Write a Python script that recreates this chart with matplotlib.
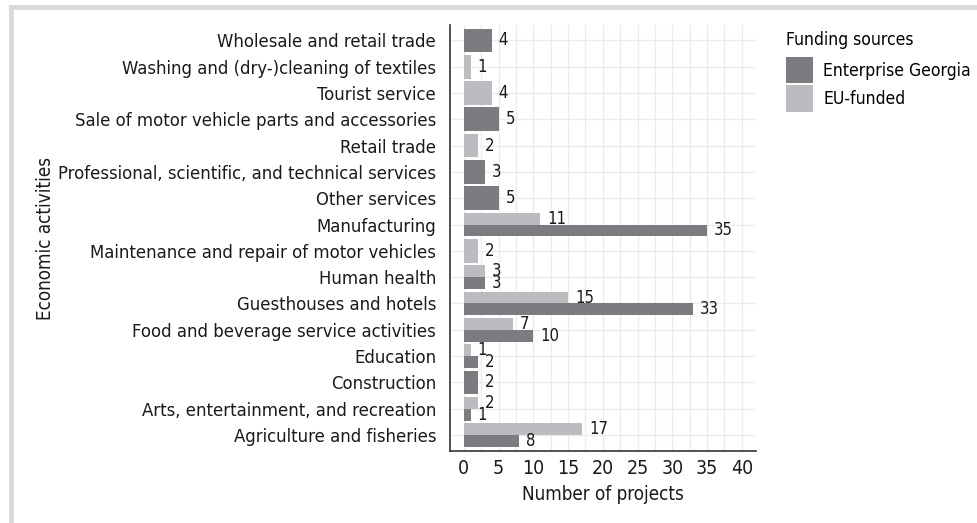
#!/usr/bin/env python3
"""Projects by economic activity and funding source, horizontal grouped bars."""

import matplotlib

matplotlib.use("Agg")
import matplotlib.pyplot as plt
import numpy as np
from matplotlib.lines import Line2D
from matplotlib.patches import Patch

# top to bottom, as in the source chart
activities = [
    "Wholesale and retail trade",
    "Washing and (dry-)cleaning of textiles",
    "Tourist service",
    "Sale of motor vehicle parts and accessories",
    "Retail trade",
    "Professional, scientific, and technical services",
    "Other services",
    "Manufacturing",
    "Maintenance and repair of motor vehicles",
    "Human health",
    "Guesthouses and hotels",
    "Food and beverage service activities",
    "Education",
    "Construction",
    "Arts, entertainment, and recreation",
    "Agriculture and fisheries",
]
enterprise_georgia = [4, np.nan, np.nan, 5, np.nan, 3, 5, 35, np.nan, 3, 33, 10, 2, 2, 1, 8]
eu_funded = [np.nan, 1, 4, np.nan, 2, np.nan, np.nan, 11, 2, 3, 15, 7, 1, np.nan, 2, 17]
x_ticks = [0, 5, 10, 15, 20, 25, 30, 35, 40]

DARK = "#7c7c80"
LIGHT = "#bcbcc0"
GRID = "#ebebeb"
TEXT = "#1a1a1a"

plt.rcParams["font.family"] = ["DejaVu Sans"]
plt.rcParams["font.stretch"] = "condensed"


def draw_bars(ax):
    n = len(activities)
    ys = n - 1 - np.arange(n)
    width = 0.9
    for y, eg, eu in zip(ys, enterprise_georgia, eu_funded):
        both = not np.isnan(eg) and not np.isnan(eu)
        h = width / 2 if both else width
        # EU-funded sits on top, Enterprise Georgia below (ggplot dodge)
        if not np.isnan(eu):
            yc = y + width / 4 if both else y
            ax.barh(yc, eu, height=h, color=LIGHT, zorder=2)
            ax.annotate(f"{int(eu)}", (eu, yc), xytext=(5, 0), textcoords="offset points",
                        ha="left", va="center", fontsize=12, color=TEXT)
        if not np.isnan(eg):
            yc = y - width / 4 if both else y
            ax.barh(yc, eg, height=h, color=DARK, zorder=2)
            ax.annotate(f"{int(eg)}", (eg, yc), xytext=(5, 0), textcoords="offset points",
                        ha="left", va="center", fontsize=12, color=TEXT)
    return ys


fig = plt.figure(figsize=(9.77, 5.23), dpi=100)
ax = fig.add_axes([0.4606, 0.138, 0.3129, 0.815])
ys = draw_bars(ax)

ax.set_xlim(-2, 42)
ax.set_ylim(-0.6, len(activities) - 0.4)
ax.set_xticks(x_ticks)
ax.set_xticks(np.arange(2.5, 42, 5), minor=True)
ax.set_yticks(ys)
ax.set_yticklabels(activities)
ax.tick_params(axis="both", which="both", length=0, colors=TEXT)
ax.tick_params(axis="y", pad=10, labelsize=13.2)
ax.tick_params(axis="x", pad=6, labelsize=14)
ax.grid(True, which="both", axis="x", color=GRID, linewidth=1.0, zorder=0)
ax.grid(True, which="major", axis="y", color=GRID, linewidth=1.0, zorder=0)
ax.set_axisbelow(True)
for side in ("top", "right"):
    ax.spines[side].set_visible(False)
for side in ("left", "bottom"):
    ax.spines[side].set_color("#333333")
    ax.spines[side].set_linewidth(1.2)

ax.set_xlabel("Number of projects", fontsize=13.5, color=TEXT, labelpad=5)
fig.text(0.047, 0.545, "Economic activities", rotation=90, ha="center", va="center",
         fontsize=13.5, color=TEXT)

handles = [Patch(facecolor=DARK, label="Enterprise Georgia"),
           Patch(facecolor=LIGHT, label="EU-funded")]
leg = fig.legend(handles=handles, title="Funding sources", loc="upper left",
                 bbox_to_anchor=(0.797, 0.955), frameon=False, fontsize=12.6,
                 title_fontsize=12.6, handlelength=1.55, handleheight=1.95,
                 handletextpad=0.6, labelspacing=0.12, borderaxespad=0)
leg._legend_box.align = "left"
leg._legend_box.sep = 6  # a bit more room between title and keys

# light grey frame along the top and left edges of the image
frame = "#d9d9d9"
fig.add_artist(Line2D([0.011, 1.0], [0.987, 0.987], color=frame, linewidth=3.5))
fig.add_artist(Line2D([0.011, 0.011], [0.0, 0.987], color=frame, linewidth=3.5))

fig.savefig("out.png", dpi=100, facecolor="white")
